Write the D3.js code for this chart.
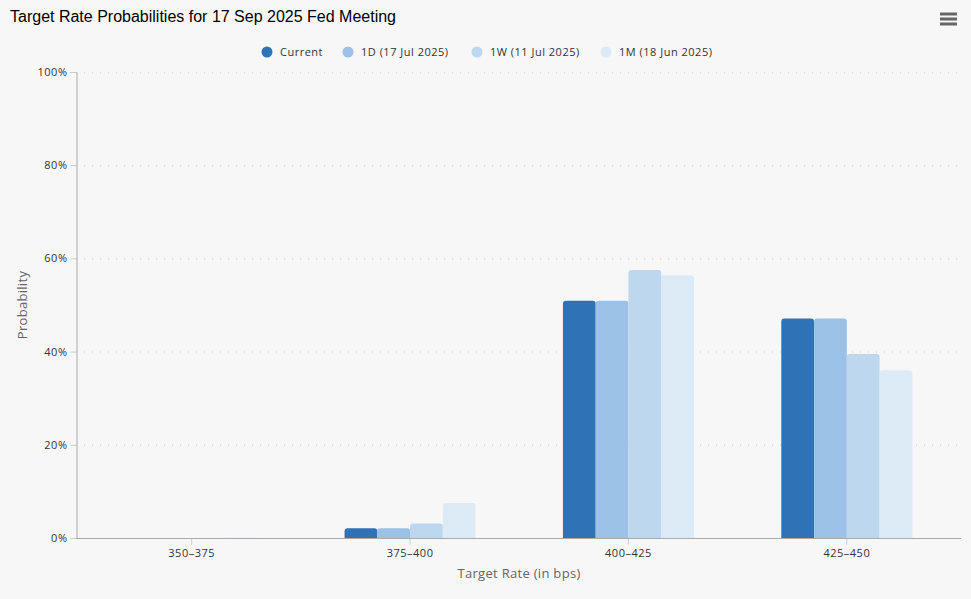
<!DOCTYPE html>
<html>
<head>
<meta charset="utf-8">
<script src="https://cdn.jsdelivr.net/npm/d3@7"></script>
<style>
  body { margin: 0; background: #f7f7f7; }
  svg { display: block; }
</style>
</head>
<body>
<div id="chart"></div>
<script>
// data
var categories = ["350–375", "375–400", "400–425", "425–450"];
var seriesNames = ["Current", "1D (17 Jul 2025)", "1W (11 Jul 2025)", "1M (18 Jun 2025)"];
var current = [0, 2.1, 50.9, 47.1];
var oneDay = [0, 2.1, 50.9, 47.1];
var oneWeek = [0, 3.1, 57.5, 39.5];
var oneMonth = [0.1, 7.5, 56.4, 36.0];
var yTicks = [0, 20, 40, 60, 80, 100];
var colors = ["#2f72b5", "#9bc1e6", "#bdd7ef", "#dceaf6"];

var allSeries = [current, oneDay, oneWeek, oneMonth];

var svgWidth = 971, svgHeight = 599;
var margin = { top: 72, right: 10, bottom: 61, left: 76 };
var height = svgHeight - margin.top - margin.bottom;

var svg = d3.select("#chart")
  .append("svg")
  .attr("width", svgWidth)
  .attr("height", svgHeight)
  .style("font-family", "'Open Sans', 'Noto Sans', sans-serif");

svg.append("rect")
  .attr("width", svgWidth)
  .attr("height", svgHeight)
  .attr("fill", "#f7f7f7");

// title
svg.append("text")
  .attr("x", 10)
  .attr("y", 22)
  .attr("font-family", "'Liberation Sans', Arial, sans-serif")
  .attr("font-size", "16px")
  .attr("fill", "#000")
  .text("Target Rate Probabilities for 17 Sep 2025 Fed Meeting");

// menu icon
[14, 19, 24].forEach(function(y) {
  svg.append("line")
    .attr("x1", 940).attr("x2", 957)
    .attr("y1", y).attr("y2", y)
    .attr("stroke", "#666")
    .attr("stroke-width", 3);
});

// scales
var xScale = d3.scaleBand()
  .domain(categories)
  .range([82.5, 956]);

var yScale = d3.scaleLinear()
  .domain([0, 100])
  .range([margin.top + height, margin.top]);

var groupWidth = xScale.bandwidth() * 0.6;
var xInner = d3.scaleBand()
  .domain(seriesNames)
  .range([0, groupWidth]);

// gridlines
svg.append("g")
  .selectAll("line")
  .data(yTicks.filter(d => d > 0))
  .enter()
  .append("line")
  .attr("x1", 76)
  .attr("x2", 961)
  .attr("y1", d => yScale(d) + 0.5)
  .attr("y2", d => yScale(d) + 0.5)
  .attr("stroke", "#d8d8d8")
  .attr("stroke-dasharray", "1,7")
  .attr("stroke-width", 1.5);

// y axis
var yAxis = d3.axisLeft(yScale)
  .tickValues(yTicks)
  .tickFormat(d => d + "%")
  .tickSize(6)
  .tickPadding(3);

var yG = svg.append("g")
  .attr("transform", "translate(76.5,0)")
  .call(yAxis);
yG.select(".domain").attr("stroke", "#aaa");
yG.selectAll(".tick line").attr("stroke", "#ccc");
yG.selectAll(".tick text")
  .attr("font-size", "11px")
  .attr("fill", "#333")
  .attr("letter-spacing", "0.5px")
  .attr("font-family", "'Open Sans', 'Noto Sans', sans-serif");

// bars
var barData = [];
categories.forEach(function(c, i) {
  seriesNames.forEach(function(s, j) {
    barData.push({ cat: c, series: s, idx: j, value: allSeries[j][i] });
  });
});

function barPath(d) {
  var x0 = xScale(d.cat) + (xScale.bandwidth() - groupWidth) / 2 + xInner(d.series);
  var w = xInner.bandwidth();
  var y0 = yScale(0);
  var y1 = yScale(d.value);
  var h = y0 - y1;
  var r = Math.min(3, h, w / 2);
  return "M" + x0 + "," + y0 +
    "V" + (y1 + r) +
    "Q" + x0 + "," + y1 + " " + (x0 + r) + "," + y1 +
    "H" + (x0 + w - r) +
    "Q" + (x0 + w) + "," + y1 + " " + (x0 + w) + "," + (y1 + r) +
    "V" + y0 + "Z";
}

svg.append("g")
  .selectAll("path")
  .data(barData.filter(d => d.value > 0))
  .enter()
  .append("path")
  .attr("d", barPath)
  .attr("fill", d => colors[d.idx]);

// x axis
var xAxis = d3.axisBottom(xScale)
  .tickSize(6)
  .tickPadding(5);

var xG = svg.append("g")
  .attr("transform", `translate(0, ${yScale(0) + 0.5})`)
  .call(xAxis);
xG.select(".domain").remove();
xG.append("line")
  .attr("x1", 76).attr("x2", 961)
  .attr("stroke", "#aaa");
xG.selectAll(".tick line").attr("stroke", "#ccc");
xG.selectAll(".tick text")
  .attr("font-size", "11px")
  .attr("fill", "#333")
  .attr("letter-spacing", "0.5px")
  .attr("font-family", "'Open Sans', 'Noto Sans', sans-serif");

// axis titles
svg.append("text")
  .attr("x", 519)
  .attr("y", 578)
  .attr("text-anchor", "middle")
  .attr("font-size", "13px")
  .attr("letter-spacing", "0.3px")
  .attr("fill", "#666")
  .text("Target Rate (in bps)");

svg.append("text")
  .attr("transform", "translate(27, 305) rotate(-90)")
  .attr("text-anchor", "middle")
  .attr("font-size", "13px")
  .attr("letter-spacing", "0.3px")
  .attr("fill", "#666")
  .text("Probability");

// legend
var legendX = [267, 348, 477, 606];
var legend = svg.append("g")
  .selectAll("g")
  .data(seriesNames)
  .enter()
  .append("g")
  .attr("transform", (d, i) => `translate(${legendX[i]}, 52)`);

legend.append("circle")
  .attr("r", 5.5)
  .attr("fill", (d, i) => colors[i]);

legend.append("text")
  .attr("x", 13)
  .attr("y", 4)
  .attr("font-size", "11px")
  .attr("letter-spacing", "0.5px")
  .attr("fill", "#333")
  .text(d => d);
</script>
</body>
</html>
